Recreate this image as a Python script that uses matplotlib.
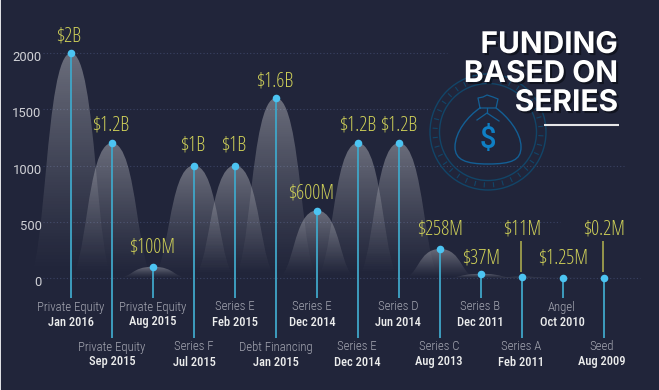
"""
Funding based on series - bell shaped peaks with stems and labels
"""
import numpy as np
import matplotlib
matplotlib.use("Agg")
import matplotlib.pyplot as plt
import matplotlib.patheffects as pe
from matplotlib.patches import Circle, PathPatch, Rectangle
from matplotlib.path import Path
from matplotlib.transforms import ScaledTranslation

# data
rounds = ["Private Equity", "Private Equity", "Private Equity", "Series F", "Series E",
          "Debt Financing", "Series E", "Series E", "Series D", "Series C",
          "Series B", "Series A", "Angel", "Seed"]
dates = ["Jan 2016", "Sep 2015", "Aug 2015", "Jul 2015", "Feb 2015", "Jan 2015", "Dec 2014",
         "Dec 2014", "Jun 2014", "Aug 2013", "Dec 2011", "Feb 2011", "Oct 2010", "Aug 2009"]
amounts = [2000, 1200, 100, 1000, 1000, 1600, 600, 1200, 1200, 258, 37, 11, 1.25, 0.2]
amount_labels = ["$2B", "$1.2B", "$100M", "$1B", "$1B", "$1.6B", "$600M", "$1.2B", "$1.2B",
                 "$258M", "$37M", "$11M", "$1.25M", "$0.2M"]
y_ticks = [0, 500, 1000, 1500, 2000]

# layout, in pixels of the 659x390 picture
W, H = 659, 390
X0, STEP = 71, 41       # pixel of first peak, pixels per peak
Y_ZERO, Y_2000 = 278, 53
AX_LEFT = 43
grid_ends = [640, 560, 624, 430, 447]
stem_ends = [298, 338] * 7
stem_ends[10:14] = [298, 338, 298, 338]
label_offsets = [(-2, 17), (-1, 18), (-1, 19), (-1, 20), (-1, 20), (-1, 17), (-6, 17), (0, 18),
                 (0, 18), (0, 19), (0, 15), (0, 47), (0, 19), (0, 48)]
text_shift = [0, 0, 0, 0, 0, 0, -5, -1, -1, -1, -1, -1, -1, -2]

BG = "#21253a"
YELLOW = "#cfd058"
STEM = "#3fa6c8"
DOT = "#4cc4f2"
RING = "#124568"
ICON = "#135f95"


def px_x(px):
    return (px - X0) / STEP


def px_y(px):
    return (Y_ZERO - px) * 2000 / (Y_ZERO - Y_2000)


fig = plt.figure(figsize=(W / 100, H / 100), dpi=100, facecolor=BG)
ax = fig.add_axes([AX_LEFT / W, 0, 1 - AX_LEFT / W, 1])
ax.patch.set_visible(False)
for s in ax.spines.values():
    s.set_visible(False)

# bells with a vertical fade, each clipped to its own outline
for i, v in enumerate(amounts):
    w = 0.88 + 0.2 * min(v / 1000, 1)
    verts = [(i - w, 0), (i - w * 0.55, 0), (i - w * 0.6, v), (i, v),
             (i + w * 0.6, v), (i + w * 0.55, 0), (i + w, 0), (i - w, 0)]
    codes = [Path.MOVETO] + [Path.CURVE4] * 6 + [Path.CLOSEPOLY]
    bell = PathPatch(Path(verts, codes), fc="none", ec="none", transform=ax.transData)
    bell.set_clip_on(False)
    ax.add_patch(bell)
    ramp = np.ones((64, 1, 4))
    ramp[:, :, 3] = (0.33 * np.linspace(1, 0, 64) ** 1.2).reshape(-1, 1)
    im = ax.imshow(ramp, extent=(i - w, i + w, 0, v), aspect="auto", zorder=2,
                   interpolation="bilinear")
    im.set_clip_box(fig.bbox)
    im.set_clip_path(bell)

# grid, each line stops at its own length
for t, end in zip(y_ticks, grid_ends):
    ax.plot([px_x(AX_LEFT), px_x(end)], [t, t], color="#3a4263", lw=0.8, ls=(0, (1, 2)), zorder=1)

ax.set_xlim(px_x(AX_LEFT), px_x(W))
ax.set_ylim(px_y(H), px_y(0))
ax.set_xticks([])
ax.set_yticks(y_ticks)
ax.tick_params(axis="y", length=0, pad=1, labelsize=9.4, labelcolor="#d0d1d6")
nudge = ScaledTranslation(0, -3 / 100, fig.dpi_scale_trans)
for lab in ax.get_yticklabels():
    lab.set_family("Roboto")
    lab.set_transform(lab.get_transform() + nudge)

x = np.arange(len(amounts))
ax.vlines(x, px_y(np.array(stem_ends)), amounts, color=STEM, lw=1.3, zorder=3)
ax.scatter(x, amounts, s=30, color=DOT, linewidths=0, zorder=4)

for i in x:
    # amount above the dot
    ax.annotate(amount_labels[i], (i, amounts[i]), xytext=label_offsets[i], textcoords="offset pixels",
                ha="center", va="center", color=YELLOW, fontsize=14.5,
                family="Open Sans", stretch="condensed", fontweight=300, zorder=5)
    # round and date below the stem
    top = stem_ends[i] + 9
    ax.text(i + text_shift[i] / STEP, px_y(top), rounds[i], ha="center", va="center",
            color="#a5a7b2", fontsize=9.2, family="Roboto Condensed", fontweight=300, zorder=5)
    ax.text(i + text_shift[i] / STEP, px_y(top + 15), dates[i], ha="center", va="center",
            color="#eceded", fontsize=9, family="Roboto Condensed", fontweight=500, zorder=5)

# connector lines of the two small rounds
for i in (11, 13):
    ax.vlines(i - 0.02, px_y(272), px_y(241), color="#a8a94e", lw=1.2, zorder=3)

# overlay in picture pixels for the emblem and title
over = fig.add_axes([0, 0, 1, 1])
over.set_xlim(0, W)
over.set_ylim(H, 0)
over.axis("off")
over.patch.set_visible(False)
over.add_patch(Rectangle((0, 0), 1, H, fc="#dfe0e4", ec="none"))

cx, cy = 488, 132
for r in (58, 48.5):
    over.add_patch(Circle((cx, cy), r, fc="none", ec=RING, lw=1.0))
for a in np.arange(0, 360, 10):
    t = np.deg2rad(a + 4)
    over.plot([cx + 51 * np.cos(t), cx + 55 * np.cos(t)],
              [cy + 51 * np.sin(t), cy + 55 * np.sin(t)], color=RING, lw=0.8)

bag = [(480, 108), (468, 116), (455, 132), (455, 147),
       (455, 160), (466, 164), (488, 164),
       (512, 164), (521, 160), (521, 147),
       (521, 132), (507, 116), (496, 108)]
over.add_patch(PathPatch(Path(bag, [Path.MOVETO] + [Path.CURVE4] * 12), fc="none", ec=ICON, lw=1.0))
tuft = [(480, 108), (478, 98), (483, 97), (487, 95), (493, 97), (498, 99), (496, 108), (480, 108)]
over.plot(*zip(*tuft), color=ICON, lw=0.9)
over.plot([477, 487, 499], [120, 113, 121], color=ICON, lw=0.9)
over.plot([487, 487], [108, 113], color=ICON, lw=0.9)
over.text(488, 140, "$", ha="center", va="center", color="#0f7fc4", fontsize=21,
          family="Roboto", fontweight=500)

title_fx = [pe.SimplePatchShadow(offset=(1.5, -1.5), shadow_rgbFace="#0b0d16", alpha=0.7), pe.Normal()]
for y, line in zip((45, 74, 103), ("FUNDING", "BASED ON", "SERIES")):
    over.text(618, y, line, ha="right", va="center", color="white", fontsize=21.5,
              family="Inter", fontweight="bold", path_effects=title_fx, zorder=6)
over.plot([544, 619], [125, 125], color="#e6e6e8", lw=1.5, solid_capstyle="butt")

fig.savefig("out.png", dpi=100, facecolor=BG)
plt.close(fig)
